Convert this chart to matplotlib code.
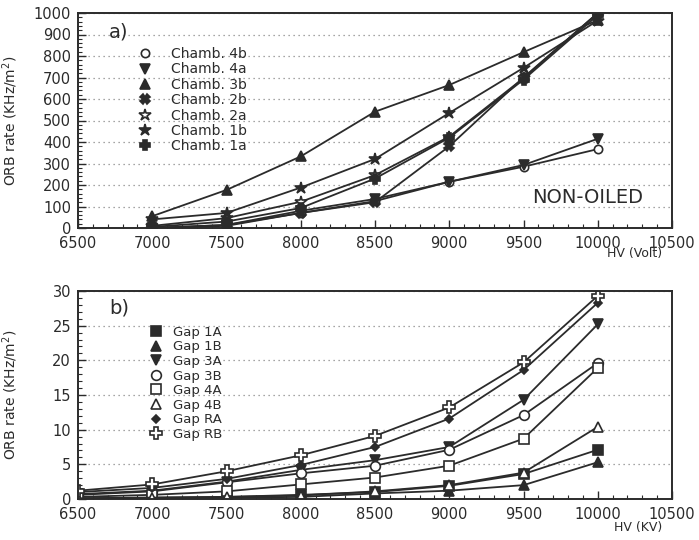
import matplotlib
matplotlib.use("Agg")
import matplotlib.pyplot as plt
from matplotlib.ticker import MultipleLocator

# ---------------- data: panel a (non-oiled chambers) ----------------
hv_a = [7000, 7500, 8000, 8500, 9000, 9500, 10000]
ch_4b = [0, 10, 70, 125, 215, 285, 367]
ch_4a = [0, 14, 80, 135, 215, 293, 415]
ch_3b = [55, 177, 333, 541, 665, 818, 967]
ch_2b = [0, 14, 70, 120, 380, 700, 1000]
ch_2a = [10, 46, 122, 246, 425, 697, 1000]
ch_1b = [40, 70, 188, 321, 535, 745, 965]
ch_1a = [5, 30, 93, 230, 420, 690, 990]
labels_a = ["Chamb. 4b", "Chamb. 4a", "Chamb. 3b", "Chamb. 2b",
            "Chamb. 2a", "Chamb. 1b", "Chamb. 1a"]

# ---------------- data: panel b (gaps) ----------------
hv_b = [6500, 7000, 7500, 8000, 8500, 9000, 9500, 10000]
gap_1a = [0.1, 0.2, 0.3, 0.6, 1.0, 1.9, 3.6, 7.1]
gap_1b = [0.05, 0.1, 0.2, 0.3, 0.8, 1.2, 2.0, 5.3]
gap_3a = [0.7, 1.2, 2.5, 4.2, 5.6, 7.5, 14.3, 25.2]
gap_3b = [0.6, 1.1, 2.4, 3.7, 4.8, 7.1, 12.1, 19.6]
gap_4a = [0.3, 0.6, 1.1, 2.1, 3.1, 4.8, 8.7, 18.9]
gap_4b = [0.1, 0.2, 0.3, 0.5, 1.1, 2.0, 3.8, 10.4]
gap_ra = [1.0, 1.6, 2.9, 4.9, 7.5, 11.6, 18.6, 28.3]
gap_rb = [1.2, 2.1, 4.0, 6.3, 9.1, 13.2, 19.7, 29.3]
labels_b = ["Gap 1A", "Gap 1B", "Gap 3A", "Gap 3B",
            "Gap 4A", "Gap 4B", "Gap RA", "Gap RB"]

ink = "#2b2b2b"
plt.rcParams['font.family'] = ['DejaVu Sans']

fig = plt.figure(figsize=(6.99, 5.40), dpi=100)
ax1 = fig.add_axes([78/699, 1-228/540, (672-78)/699, (228-13)/540])
ax2 = fig.add_axes([78/699, 1-499/540, (672-78)/699, (499-291)/540])

def style(ax):
    ax.tick_params(which='both', direction='in', top=False, right=False,
                   labelsize=10.5, colors=ink)
    ax.tick_params(axis='x', pad=6)
    ax.tick_params(axis='y', pad=5)
    ax.tick_params(which='major', length=6, width=1.0)
    ax.tick_params(which='minor', length=3, width=0.8)
    for s in ax.spines.values():
        s.set_color(ink)
        s.set_linewidth(1.4)
    ax.yaxis.grid(True, which='major', linestyle=(0, (1, 3)), color='#888888', linewidth=0.9)
    ax.set_axisbelow(True)
    ax.xaxis.set_major_locator(MultipleLocator(500))
    ax.xaxis.set_minor_locator(MultipleLocator(100))

# ---- panel a ----
series_a = [
    (ch_4b, dict(marker='o', mfc='white', ms=6)),
    (ch_4a, dict(marker='v', mfc=ink, ms=7)),
    (ch_3b, dict(marker='^', mfc=ink, ms=7)),
    (ch_2b, dict(marker='X', mfc=ink, ms=7)),
    (ch_2a, dict(marker='*', mfc='white', ms=9)),
    (ch_1b, dict(marker='*', mfc=ink, ms=9)),
    (ch_1a, dict(marker='P', mfc=ink, ms=7)),
]
handles = []
for (vals, kw), lab in zip(series_a, labels_a):
    ax1.plot(hv_a, vals, color=ink, lw=1.3, mec=ink, mew=1.2, **kw)
    h, = ax1.plot([], [], linestyle='none', mec=ink, mew=1.2, **kw)
    handles.append(h)
ax1.set_xlim(6500, 10500)
ax1.set_ylim(0, 1000)
ax1.yaxis.set_major_locator(MultipleLocator(100))
ax1.yaxis.set_minor_locator(MultipleLocator(20))
style(ax1)
ax1.set_ylabel("ORB rate (KHz/m$^2$)", fontsize=10, color=ink)
ax1.yaxis.set_label_coords(-0.098, 0.5)
ax1.legend(handles, labels_a, loc='upper left', bbox_to_anchor=(0.08, 0.9),
           frameon=False, fontsize=10, labelspacing=0.1, handletextpad=1.4,
           handlelength=1.0, labelcolor=ink)
ax1.text(6710, 910, "a)", fontsize=14, color=ink, va='center')
ax1.text(9930, 140, "NON-OILED", fontsize=14, color=ink, ha='center', va='center')
fig.text(635/699, 1-253/540, "HV (Volt)", fontsize=9, color=ink, ha='center', va='center')

# ---- panel b ----
series_b = [
    (gap_1a, dict(marker='s', mfc=ink, ms=7)),
    (gap_1b, dict(marker='^', mfc=ink, ms=7)),
    (gap_3a, dict(marker='v', mfc=ink, ms=7)),
    (gap_3b, dict(marker='o', mfc='white', ms=7)),
    (gap_4a, dict(marker='s', mfc='white', ms=7)),
    (gap_4b, dict(marker='^', mfc='white', ms=7)),
    (gap_ra, dict(marker='D', mfc=ink, ms=4.5)),
    (gap_rb, dict(marker='P', mfc='white', ms=8)),
]
handles = []
for (vals, kw), lab in zip(series_b, labels_b):
    ax2.plot(hv_b, vals, color=ink, lw=1.3, mec=ink, mew=1.2, **kw)
    h, = ax2.plot([], [], linestyle='none', mec=ink, mew=1.2, **kw)
    handles.append(h)
ax2.set_xlim(6500, 10500)
ax2.set_ylim(0, 30)
ax2.yaxis.set_major_locator(MultipleLocator(5))
ax2.yaxis.set_minor_locator(MultipleLocator(1))
style(ax2)
ax2.set_ylabel("ORB rate (KHz/m$^2$)", fontsize=10, color=ink)
ax2.yaxis.set_label_coords(-0.098, 0.5)
ax2.legend(handles, labels_b, loc='upper left', bbox_to_anchor=(0.1, 0.89),
           frameon=False, fontsize=9.5, labelspacing=0.12, handletextpad=0.8,
           handlelength=1.0, labelcolor=ink)
ax2.text(6710, 27.5, "b)", fontsize=14, color=ink, va='center')
fig.text(638/699, 1-527/540, "HV (KV)", fontsize=9, color=ink, ha='center', va='center')

fig.savefig("out.png", dpi=100)
